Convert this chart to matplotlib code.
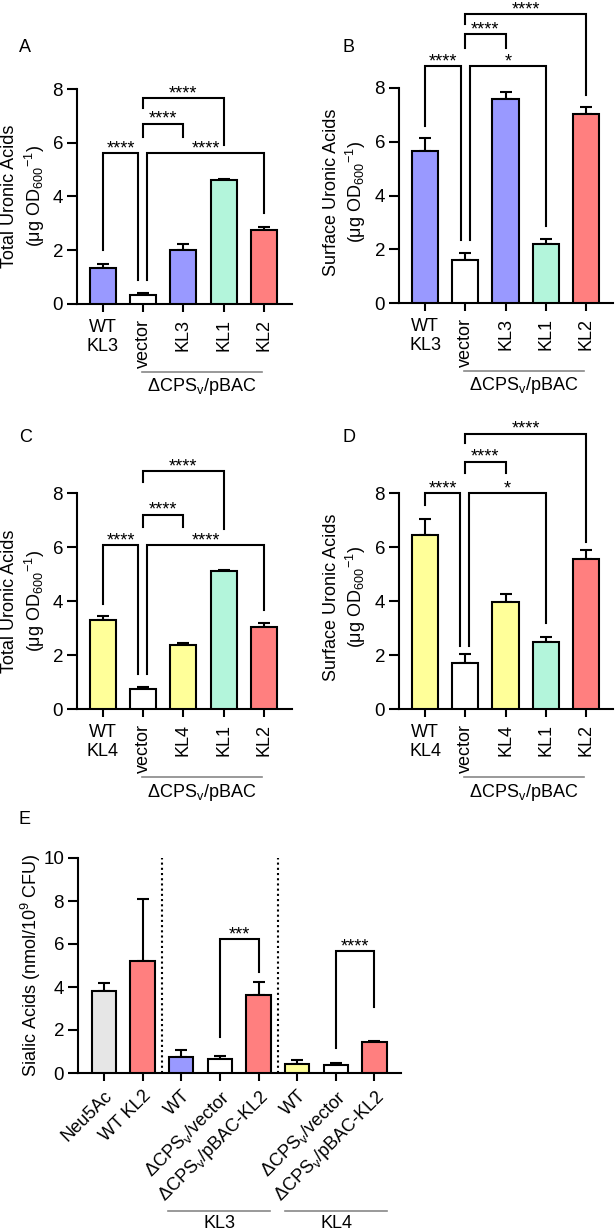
import matplotlib
matplotlib.use('Agg')
import matplotlib.pyplot as plt

plt.rcParams['font.family'] = ['Liberation Sans', 'DejaVu Sans']
plt.rcParams['mathtext.fontset'] = 'custom'
plt.rcParams['mathtext.rm'] = 'Liberation Sans'
plt.rcParams['mathtext.it'] = 'Liberation Sans:italic'
plt.rcParams['mathtext.bf'] = 'Liberation Sans:bold'
plt.rcParams['mathtext.default'] = 'rm'

# ---------------- data ----------------
PURPLE = '#9999FF'
MINT = '#B3F5DB'
RED = '#FF7F7F'
YELLOW = '#FFFF99'
GREY = '#E6E6E6'
WHITE = '#FFFFFF'

a_labels = ['WT\nKL3', 'vector', 'KL3', 'KL1', 'KL2']
a_values = [1.35, 0.35, 2.0, 4.6, 2.75]
a_errors = [0.15, 0.06, 0.25, 0.06, 0.12]
a_colors = [PURPLE, WHITE, PURPLE, MINT, RED]

b_labels = ['WT\nKL3', 'vector', 'KL3', 'KL1', 'KL2']
b_values = [5.65, 1.6, 7.6, 2.2, 7.05]
b_errors = [0.5, 0.25, 0.25, 0.2, 0.25]
b_colors = [PURPLE, WHITE, PURPLE, MINT, RED]

c_labels = ['WT\nKL4', 'vector', 'KL4', 'KL1', 'KL2']
c_values = [3.3, 0.75, 2.38, 5.1, 3.05]
c_errors = [0.15, 0.05, 0.06, 0.04, 0.13]
c_colors = [YELLOW, WHITE, YELLOW, MINT, RED]

d_labels = ['WT\nKL4', 'vector', 'KL4', 'KL1', 'KL2']
d_values = [6.45, 1.7, 3.95, 2.5, 5.55]
d_errors = [0.6, 0.35, 0.3, 0.15, 0.35]
d_colors = [YELLOW, WHITE, YELLOW, MINT, RED]

e_labels = ['Neu5Ac', 'WT KL2', 'WT', r'ΔCPS$_{\mathrm{v}}$/vector', r'ΔCPS$_{\mathrm{v}}$/pBAC-KL2',
            'WT', r'ΔCPS$_{\mathrm{v}}$/vector', r'ΔCPS$_{\mathrm{v}}$/pBAC-KL2']
e_values = [3.8, 5.2, 0.75, 0.65, 3.65, 0.42, 0.35, 1.45]
e_errors = [0.4, 2.9, 0.3, 0.15, 0.6, 0.2, 0.12, 0.06]
e_colors = [GREY, RED, PURPLE, WHITE, RED, YELLOW, WHITE, RED]

# brackets: (x_left, x_right, y_top, y_left_end, y_right_end, label)
a_brackets = [(0, 0.88, 5.6, 2.0, 0.9, '****'),
              (1, 2, 6.7, 6.2, 6.2, '****'),
              (1, 3, 7.65, 7.3, 5.9, '****'),
              (1.1, 4, 5.6, 0.9, 3.4, '****')]
b_brackets = [(0, 0.9, 8.8, 6.6, 2.35, '****'),
              (1.12, 3, 8.8, 2.35, 2.85, '*'),
              (1, 2, 10.0, 9.5, 9.5, '****'),
              (1, 4, 10.75, 10.4, 7.75, '****')]
c_brackets = [(0, 0.88, 6.07, 3.9, 1.3, '****'),
              (1.1, 4, 6.07, 1.3, 3.65, '****'),
              (1, 2, 7.2, 6.75, 6.75, '****'),
              (1, 3, 8.8, 8.4, 6.65, '****')]
d_brackets = [(0, 0.88, 8.0, 7.55, 2.35, '****'),
              (1.1, 3, 8.0, 2.35, 3.2, '*'),
              (1, 2, 9.15, 8.75, 8.75, '****'),
              (1, 4, 10.2, 9.85, 6.2, '****')]
e_brackets = [(3, 4, 6.23, 1.67, 4.7, '***'),
              (6, 7, 5.67, 1.16, 3.07, '****')]

W, H = 615, 1231
FS = 13
TFS = 13.5
LW = 1.5

fig = plt.figure(figsize=(W / 100, H / 100), dpi=100)


def rect(x0, x1, ytop, ybot):
    return [x0 / W, 1 - ybot / H, (x1 - x0) / W, (ybot - ytop) / H]


def px(x, y):
    return x / W, 1 - y / H


def draw_bars(ax, labels, values, errors, colors, xlim, ymax, yticks, width):
    xs = list(range(len(values)))
    ax.bar(xs, values, width=width, color=colors, edgecolor='black', linewidth=LW, zorder=3)
    ax.errorbar(xs, values, yerr=[[0] * len(errors), errors], fmt='none', ecolor='black',
                elinewidth=LW, capsize=4.5, capthick=LW, zorder=2)
    ax.set_xlim(*xlim)
    ax.set_ylim(0, ymax)
    ax.set_yticks(yticks)
    for s in ['top', 'right']:
        ax.spines[s].set_visible(False)
    for s in ['left', 'bottom']:
        ax.spines[s].set_linewidth(LW)
    ax.tick_params(axis='y', direction='out', length=7, width=LW, labelsize=TFS, pad=3)
    ax.tick_params(axis='x', direction='out', length=5.5, width=LW, labelsize=FS, pad=5)
    ax.set_xticks(xs)
    ax.set_xticklabels(labels)


def draw_brackets(ax, brackets):
    for x1, x2, yt, yb1, yb2, lab in brackets:
        ax.plot([x1, x1, x2, x2], [yb1, yt, yt, yb2], color='black', lw=LW,
                clip_on=False, solid_joinstyle='miter', zorder=4)
        ax.text((x1 + x2) / 2, yt, lab, ha='center', va='baseline', fontsize=FS, clip_on=False)


def rotate_labels(ax):
    for i, lab in enumerate(ax.get_xticklabels()):
        if i == 0:
            lab.set_rotation(0)
            lab.set_ha('center')
            lab.set_va('top')
            lab.set_multialignment('center')
        else:
            lab.set_rotation(90)
            lab.set_ha('center')
            lab.set_va('top')


def group_line(ax, x0, x1, yline, ytext, text):
    tr = ax.get_xaxis_transform()
    ax.plot([x0, x1], [yline, yline], color='#888888', lw=1.2, transform=tr, clip_on=False)
    ax.text((x0 + x1) / 2, ytext, text, ha='center', va='center', fontsize=FS,
            transform=tr)


panels = [
    ('A', rect(77, 292, 89, 304), a_labels, a_values, a_errors, a_colors, a_brackets, (-0.646, 4.70),
     'Total Uronic Acids', (19, 47), (10, 35, 196)),
    ('B', rect(399, 613, 88, 303), b_labels, b_values, b_errors, b_colors, b_brackets, (-0.646, 4.67),
     'Surface Uronic Acids', (342, 47), (331, 356, 192)),
    ('C', rect(77, 292, 493, 709), c_labels, c_values, c_errors, c_colors, c_brackets, (-0.646, 4.70),
     'Total Uronic Acids', (19, 437), (10, 35, 601)),
    ('D', rect(399, 613, 493, 709), d_labels, d_values, d_errors, d_colors, d_brackets, (-0.646, 4.67),
     'Surface Uronic Acids', (342, 437), (331, 356, 597)),
]

for letter, r, labels, vals, errs, cols, brs, xlim, ylab, lpos, ylpos in panels:
    ax = fig.add_axes(r)
    draw_bars(ax, labels, vals, errs, cols, xlim, 8, [0, 2, 4, 6, 8], 0.65)
    rotate_labels(ax)
    draw_brackets(ax, brs)
    group_line(ax, 0.97, 3.95, -68 / 215, -83 / 215, r'ΔCPS$_{\mathrm{v}}$/pBAC')
    fig.text(*px(*lpos), letter, fontsize=13, ha='left', va='center')
    fig.text(*px(ylpos[0], ylpos[2]), ylab, rotation=90, ha='center', va='center', fontsize=FS)
    fig.text(*px(ylpos[1], ylpos[2]), r'(μg OD$_{600}$$^{-1}$)', rotation=90, ha='center',
             va='center', fontsize=FS)

# Panel E
axe = fig.add_axes(rect(78, 401, 858, 1073))
draw_bars(axe, e_labels, e_values, e_errors, e_colors, (-0.674, 7.69), 10, [0, 2, 4, 6, 8, 10], 0.63)
for lab in axe.get_xticklabels():
    lab.set_rotation(45)
    lab.set_ha('right')
    lab.set_va('top')
    lab.set_rotation_mode('anchor')
for xv in [1.5, 4.5]:
    axe.plot([xv, xv], [0, 10], color='black', lw=LW, ls=(0, (1, 1.5)), zorder=1)
draw_brackets(axe, e_brackets)
group_line(axe, 1.66, 4.3, -138 / 215, -150 / 215, 'KL3')
group_line(axe, 4.69, 7.33, -138 / 215, -150 / 215, 'KL4')
fig.text(*px(19, 820), 'E', fontsize=13, ha='left', va='center')
fig.text(*px(31, 965), r'Sialic Acids (nmol/10$^{9}$ CFU)', rotation=90, ha='center', va='center',
         fontsize=FS)

fig.savefig('out.png', dpi=100)
